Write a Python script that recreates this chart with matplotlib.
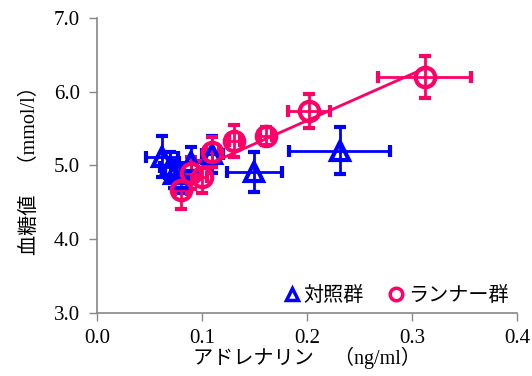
import numpy as np
import matplotlib
matplotlib.use("Agg")
import matplotlib.pyplot as plt
from matplotlib.lines import Line2D

plt.rcParams['font.family'] = ['Liberation Serif', 'Noto Sans CJK JP']

# control group (対照群)
ctrl_x = [0.062, 0.070, 0.073, 0.080, 0.090, 0.110, 0.150, 0.231]
ctrl_y = [5.12, 4.98, 4.88, 4.82, 5.05, 5.15, 4.91, 5.20]
ctrl_xerr = [0.015, 0.010, 0.008, 0.010, 0.012, 0.010, 0.026, 0.048]
ctrl_yerr = [0.28, 0.20, 0.18, 0.20, 0.20, 0.25, 0.27, 0.32]

# runners (ランナー群)
run_x = [0.080, 0.090, 0.100, 0.110, 0.131, 0.161, 0.202, 0.312]
run_y = [4.66, 4.90, 4.84, 5.18, 5.33, 5.40, 5.74, 6.20]
run_xerr = [0.006, 0.008, 0.005, 0.006, 0.005, 0.006, 0.020, 0.044]
run_yerr = [0.25, 0.22, 0.22, 0.20, 0.22, 0.12, 0.23, 0.28]

blue = "#0000FF"
red = "#FF0066"

fig = plt.figure(figsize=(5.32, 3.76), dpi=100)
ax = fig.add_axes([0.182, 0.168, 0.790, 0.784])

ax.errorbar(ctrl_x, ctrl_y, xerr=ctrl_xerr, yerr=ctrl_yerr, fmt="^",
            color=blue, ms=13, mfc="none", mew=3, elinewidth=2,
            capsize=4, capthick=2)

# trend line for runners
k, b = np.polyfit(run_x, run_y, 1)
xs = np.array([min(run_x), max(run_x)])
ax.plot(xs, k * xs + b, color=red, lw=2)

ax.errorbar(run_x, run_y, xerr=run_xerr, yerr=run_yerr, fmt="o",
            color=red, ms=14, mfc="none", mew=3, elinewidth=2,
            capsize=4, capthick=2)

ax.set_xlim(0, 0.4)
ax.set_ylim(3.0, 7.0)
ax.set_xticks([0.0, 0.1, 0.2, 0.3, 0.4])
ax.set_yticks([3.0, 4.0, 5.0, 6.0, 7.0])
ax.xaxis.set_major_formatter(matplotlib.ticker.FormatStrFormatter("%.1f"))
ax.yaxis.set_major_formatter(matplotlib.ticker.FormatStrFormatter("%.1f"))
ax.tick_params(direction="out", length=6, width=1, color="#888888",
               labelsize=15, pad=6)
for s in ["top", "right"]:
    ax.spines[s].set_visible(False)
for s in ["left", "bottom"]:
    ax.spines[s].set_color("#888888")
    ax.spines[s].set_linewidth(1.2)

ax.set_xlabel("アドレナリン　（ng/ml）", fontsize=14.5, labelpad=-1)
ax.set_ylabel("血糖値　（mmol/l）", fontsize=14.5, labelpad=10)

handles = [
    Line2D([], [], ls="none", marker="^", color=blue, mfc="none", ms=9, mew=2.5),
    Line2D([], [], ls="none", marker="o", color=red, mfc="none", ms=9, mew=2.5),
]
ax.legend(handles, ["対照群", "ランナー群"], loc="lower right", ncol=2,
          frameon=False, fontsize=14.5, handlelength=0.8, handletextpad=0.2,
          columnspacing=1.2, borderaxespad=0.0, bbox_to_anchor=(1.0, -0.005))

fig.savefig("out.png", dpi=100)
